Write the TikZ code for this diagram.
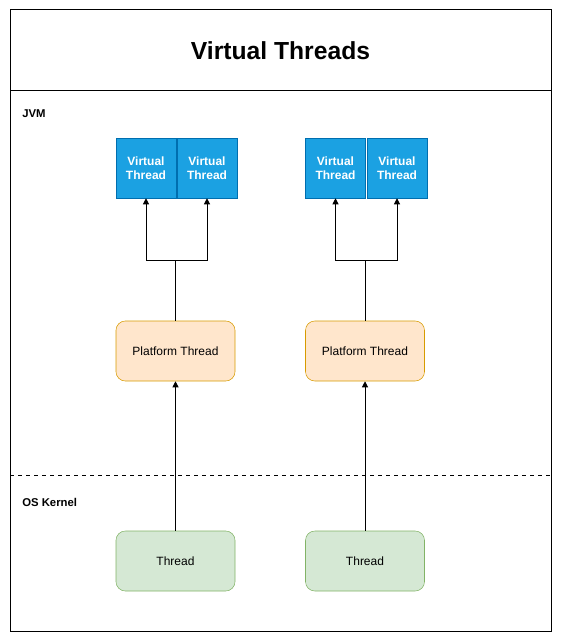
\documentclass[tikz,border=0pt]{standalone}
\usepackage{fontspec}
\setmainfont{Liberation Sans}
\usepackage{xcolor}
\definecolor{vtfill}{HTML}{1BA1E2}
\definecolor{vtline}{HTML}{006EAF}
\definecolor{ptfill}{HTML}{FFE6CC}
\definecolor{ptline}{HTML}{D79B00}
\definecolor{osfill}{HTML}{D5E8D4}
\definecolor{osline}{HTML}{82B366}
\usetikzlibrary{arrows.meta,positioning}

\begin{document}
\begin{tikzpicture}[x=0.75pt,y=-0.75pt,
  vthread/.style={draw=vtline,fill=vtfill,text=white,font=\fontsize{9}{10.5}\selectfont\bfseries,align=center,minimum width=45pt,minimum height=45pt,inner sep=0pt},
  pthread/.style={draw=ptline,fill=ptfill,rounded corners=7pt,font=\fontsize{9}{10.5}\selectfont,minimum width=89.25pt,minimum height=45pt,inner sep=0pt},
  kthread/.style={draw=osline,fill=osfill,rounded corners=7pt,font=\fontsize{9}{10.5}\selectfont,minimum width=89.25pt,minimum height=45pt,inner sep=0pt},
  region/.style={font=\fontsize{8.5}{10}\selectfont\bfseries,anchor=west,inner sep=0pt},
  ar/.style={-{Triangle[length=4.5pt,width=4.5pt]},draw=black,line width=0.75pt}
]
\useasboundingbox (0,0) rectangle (562,641);
% frame and title band
\draw[line width=0.75pt] (10,10) rectangle (551,631);
\draw[line width=0.75pt] (10,91) -- (551,91);
\draw[dashed,line width=0.6pt] (10,475) -- (551,475);
\node[font=\fontsize{18.5}{22}\selectfont\bfseries] (title) at (280.5,51) {Virtual Threads};
\node[region] (jvm) at (22,114) {JVM};
\node[region] (kernel) at (22,502) {OS Kernel};

% left column
\node[vthread] (v1) at (146,168) {Virtual\\Thread};
\node[vthread] (v2) at (207,168) {Virtual\\Thread};
\node[pthread] (p1) at (175.5,351) {Platform Thread};
\node[kthread] (k1) at (175.5,561) {Thread};
% right column
\node[vthread] (v3) at (335.5,168) {Virtual\\Thread};
\node[vthread] (v4) at (397,168) {Virtual\\Thread};
\node[pthread] (p2) at (365,351) {Platform Thread};
\node[kthread] (k2) at (365,561) {Thread};

\coordinate (j1) at (175.5,260);
\coordinate (j2) at (365,260);
\draw[ar] (k1) -- (p1);
\draw[ar] (k2) -- (p2);
\draw[ar] (p1.north) -- (j1) -| (v1.south);
\draw[ar] (j1) -| (v2.south);
\draw[ar] (p2.north) -- (j2) -| (v3.south);
\draw[ar] (j2) -| (v4.south);
\end{tikzpicture}
\end{document}
